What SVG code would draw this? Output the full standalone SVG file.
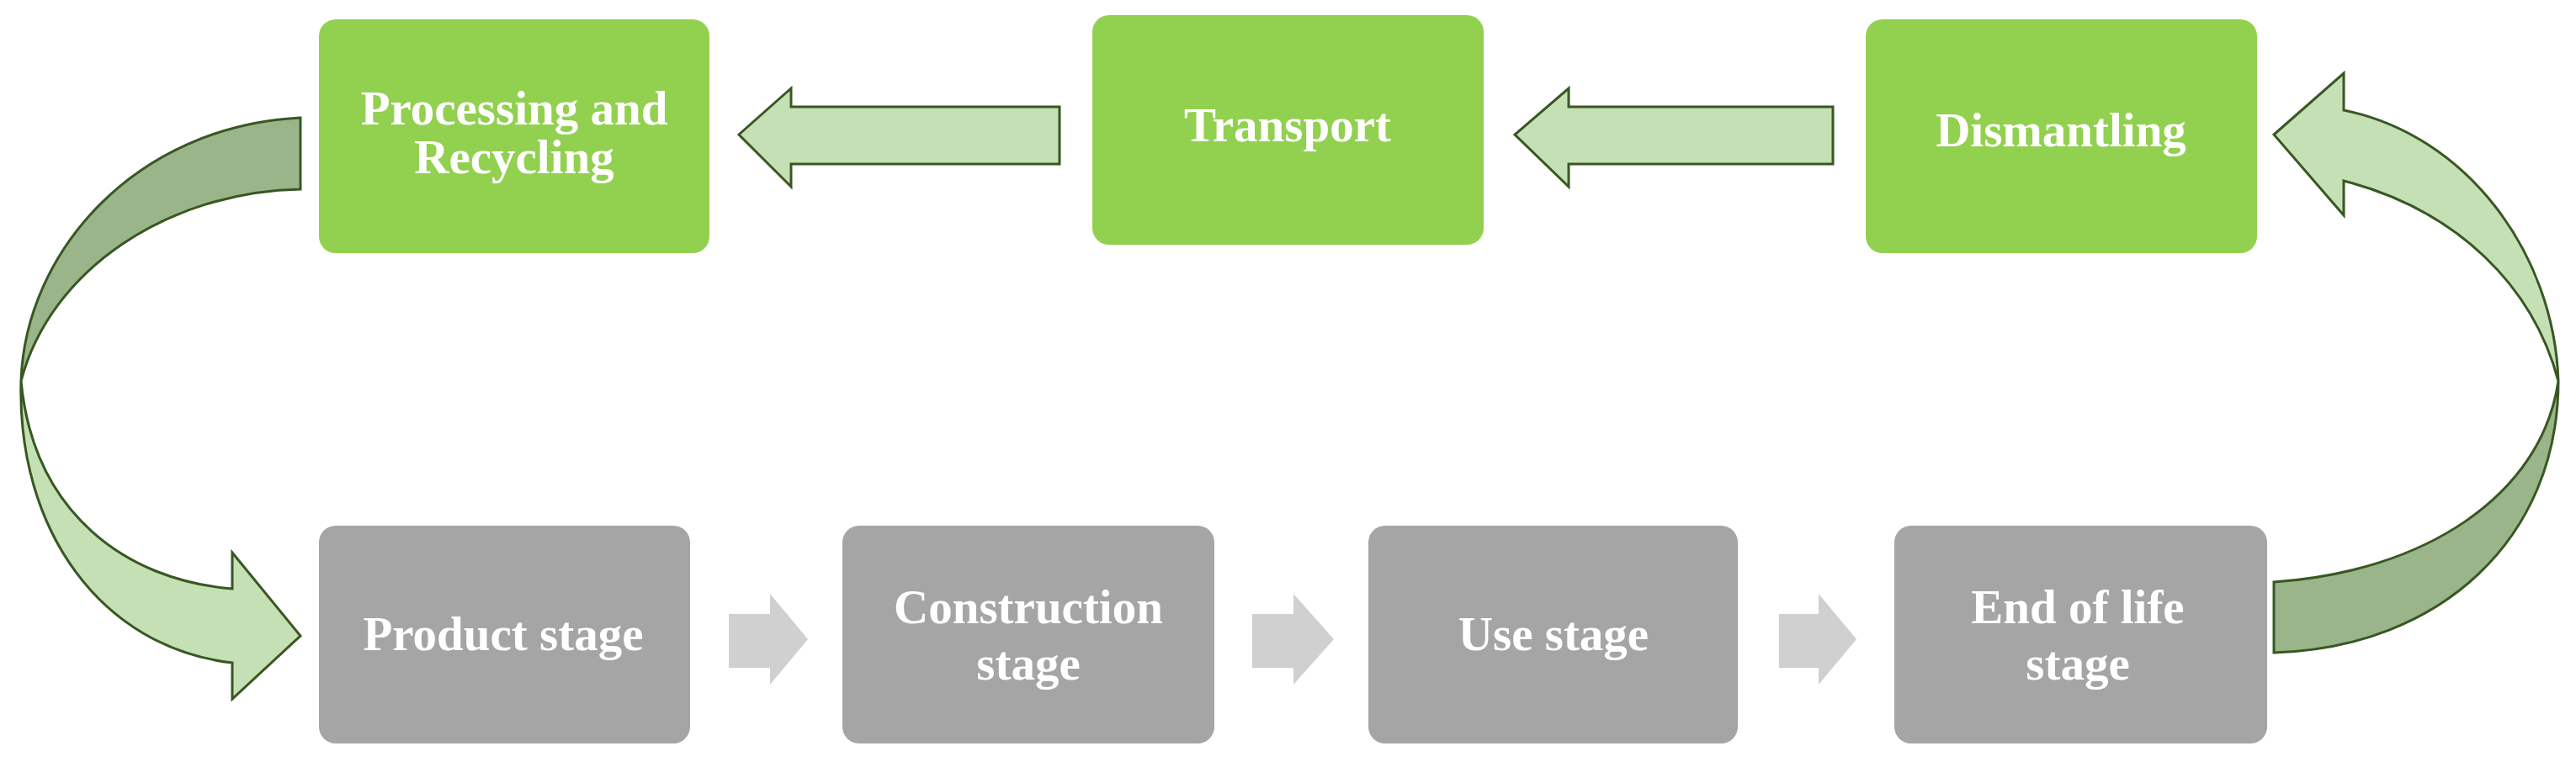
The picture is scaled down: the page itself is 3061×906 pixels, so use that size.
<svg xmlns="http://www.w3.org/2000/svg" width="3061" height="906" viewBox="0 0 3061 906">
<style>
.g{fill:#92d050}.k{fill:#a5a5a5}
.t{font-family:"Liberation Serif",serif;font-weight:bold;font-size:57px;fill:#fff;text-anchor:middle}
.a{fill:#c5e0b4;stroke:#385723;stroke-width:3;stroke-linejoin:miter}
.d{fill:#9bb58a;stroke:#385723;stroke-width:3}
.s{fill:#d0d0d0}
</style>
<rect width="3061" height="906" fill="#fff"/>
<g id="connectors">
<path class="d" d="M357,140 C160,150 30,300 25,453 C60,320 200,228 357,225 Z"/>
<path class="a" d="M25,453 C40,610 150,690 276,700 L276,657 L357,756 L276,831 L276,788 C120,770 20,630 25,453 Z"/>
<path class="d" d="M2702,692 C2880,680 3020,590 3040,453 C3040,640 2900,770 2702,776 Z"/>
<path class="a" d="M3040,453 C3035,300 2930,160 2785,131 L2785,87 L2702,160 L2785,256 L2785,215 C2920,250 3010,340 3040,453 Z"/>
<path class="a" d="M2178,127 L1864,127 L1864,105 L1800,160 L1864,222 L1864,195 L2178,195 Z"/>
<path class="a" d="M1259,127 L940,127 L940,105 L878,160 L940,222 L940,195 L1259,195 Z"/>
<path class="s" d="M866,730 L915,730 L915,706 L960,760 L915,814 L915,794 L866,794 Z"/>
<path class="s" d="M1488,730 L1537,730 L1537,706 L1585,760 L1537,814 L1537,794 L1488,794 Z"/>
<path class="s" d="M2114,730 L2161,730 L2161,706 L2206,760 L2161,814 L2161,794 L2114,794 Z"/>
</g>
<g id="processing"><rect class="g" x="379" y="23" width="464" height="278" rx="20"/><text class="t" x="611" y="148">Processing and</text><text class="t" x="611" y="206">Recycling</text></g>
<g id="transport"><rect class="g" x="1298" y="18" width="465" height="273" rx="20"/><text class="t" x="1530" y="168">Transport</text></g>
<g id="dismantling"><rect class="g" x="2217" y="23" width="465" height="278" rx="20"/><text class="t" x="2449" y="174">Dismantling</text></g>
<g id="product"><rect class="k" x="379" y="625" width="441" height="259" rx="20"/><text class="t" x="598" y="773">Product stage</text></g>
<g id="construction"><rect class="k" x="1001" y="625" width="442" height="259" rx="20"/><text class="t" x="1222" y="741">Construction</text><text class="t" x="1222" y="808">stage</text></g>
<g id="use"><rect class="k" x="1626" y="625" width="439" height="259" rx="20"/><text class="t" x="1846" y="773">Use stage</text></g>
<g id="endoflife"><rect class="k" x="2251" y="625" width="443" height="259" rx="20"/><text class="t" x="2469" y="741">End of life</text><text class="t" x="2469" y="808">stage</text></g>
</svg>
